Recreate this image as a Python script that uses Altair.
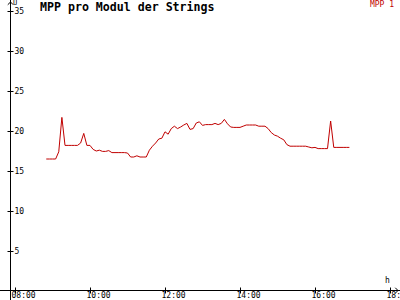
import altair as alt
import pandas as pd

times = [
    "08:50", "08:55",
    "09:00", "09:05", "09:10", "09:15", "09:20", "09:25", "09:30", "09:35", "09:40", "09:45", "09:50", "09:55",
    "10:00", "10:05", "10:10", "10:15", "10:20", "10:25", "10:30", "10:35", "10:40", "10:45", "10:50", "10:55",
    "11:00", "11:05", "11:10", "11:15", "11:20", "11:25", "11:30", "11:35", "11:40", "11:45", "11:50", "11:55",
    "12:00", "12:05", "12:10", "12:15", "12:20", "12:25", "12:30", "12:35", "12:40", "12:45", "12:50", "12:55",
    "13:00", "13:05", "13:10", "13:15", "13:20", "13:25", "13:30", "13:35", "13:40", "13:45", "13:50", "13:55",
    "14:00", "14:05", "14:10", "14:15", "14:20", "14:25", "14:30", "14:35", "14:40", "14:45", "14:50", "14:55",
    "15:00", "15:05", "15:10", "15:15", "15:20", "15:25", "15:30", "15:35", "15:40", "15:45", "15:50", "15:55",
    "16:00", "16:05", "16:10", "16:15", "16:20", "16:25", "16:30", "16:35", "16:40", "16:45", "16:50", "16:55",
]
values = [
    16.5, 16.5, 16.5, 16.5, 17.4, 21.7, 18.2, 18.2, 18.2, 18.2,
    18.2, 18.5, 19.7, 18.2, 18.2, 17.7, 17.5, 17.6, 17.45, 17.45,
    17.55, 17.3, 17.3, 17.3, 17.3, 17.3, 17.25, 16.75, 16.75, 16.9,
    16.75, 16.75, 16.75, 17.6, 18.1, 18.5, 19.0, 19.1, 19.9, 19.6,
    20.3, 20.6, 20.3, 20.5, 20.75, 20.95, 20.2, 20.3, 21.0, 21.15,
    20.7, 20.8, 20.8, 20.8, 20.95, 20.8, 20.95, 21.45, 20.9, 20.5,
    20.45, 20.45, 20.45, 20.6, 20.75, 20.75, 20.75, 20.75, 20.6, 20.6,
    20.6, 20.3, 19.8, 19.5, 19.35, 19.1, 18.9, 18.3, 18.1, 18.1,
    18.1, 18.1, 18.1, 18.1, 18.0, 17.9, 17.95, 17.8, 17.8, 17.8,
    17.8, 21.25, 17.95, 17.95, 17.95, 17.95, 17.95, 17.95,
]
x_ticks = [480, 600, 720, 840, 960, 1080]  # minutes: 08:00 .. 18:00
y_ticks = [5, 10, 15, 20, 25, 30, 35]
series_name = "MPP 1"
title_text = "MPP pro Modul der Strings"

df = pd.DataFrame({"t": times, "v": values})
df["m"] = df["t"].apply(lambda s: int(s[:2]) * 60 + int(s[3:]))

FONT = "DejaVu Sans Mono"
RED = "#c00000"

line = alt.Chart(df).mark_line(color=RED, strokeWidth=1).encode(
    x=alt.X("m:Q", scale=alt.Scale(domain=[456, 1096], nice=False, zero=False),
            axis=alt.Axis(values=x_ticks, orient="bottom", offset=-13, tickSize=6,
                          domain=False, grid=False, title=None, labelPadding=-1.5,
                          labelAlign="left", labelOffset=-4, labelBaseline="top",
                          labelFont=FONT, labelFontSize=8, labelColor="black",
                          tickColor="black", labelFlush=False, labelOverlap=False,
                          labelBound=False,
                          labelExpr="(floor(datum.value/60) < 10 ? '0' : '') + floor(datum.value/60) + ':00'")),
    y=alt.Y("v:Q", scale=alt.Scale(domain=[-1.125, 36.375], nice=False, zero=False),
            axis=alt.Axis(values=y_ticks, orient="left", offset=-13, tickSize=6,
                          domain=False, grid=False, title=None, labelPadding=-7,
                          labelAlign="left", labelBaseline="middle",
                          labelFont=FONT, labelFontSize=8, labelColor="black",
                          tickColor="black", labelFlush=False, labelOverlap=False,
                          labelBound=False)),
)

yline = alt.Chart().mark_rule(color="black", strokeWidth=1).encode(
    x=alt.value(10.5), y=alt.value(0), y2=alt.value(300))
xline = alt.Chart().mark_rule(color="black", strokeWidth=1).encode(
    x=alt.value(0), x2=alt.value(400), y=alt.value(290.5))

up_arrow = alt.Chart().mark_point(shape="M-1,1L0,0L1,1", filled=False, color="black",
                                  strokeWidth=1, size=30, opacity=1).encode(
    x=alt.value(10.5), y=alt.value(2))
right_arrow = alt.Chart().mark_point(shape="M-1,-1L0,0L-1,1", filled=False, color="black",
                                     strokeWidth=1, size=30, opacity=1).encode(
    x=alt.value(398), y=alt.value(290.5))

u_lbl = alt.Chart().mark_text(text="U", font=FONT, fontSize=7, align="left",
                              baseline="top", color="black").encode(
    x=alt.value(13), y=alt.value(-1))
h_lbl = alt.Chart().mark_text(text="h", font=FONT, fontSize=8, align="left",
                              baseline="bottom", color="black").encode(
    x=alt.value(385), y=alt.value(285))
title = alt.Chart().mark_text(text=title_text, font=FONT, fontSize=11.6, fontWeight="bold",
                              align="left", baseline="top", color="black").encode(
    x=alt.value(40), y=alt.value(2))
legend = alt.Chart().mark_text(text=series_name, font=FONT, fontSize=8,
                               align="right", baseline="top", color=RED).encode(
    x=alt.value(394), y=alt.value(1))

chart = alt.layer(line, yline, xline, up_arrow, right_arrow, u_lbl, h_lbl, title, legend).properties(
    width=400, height=300, padding=0, autosize=alt.AutoSizeParams(type="none"),
    background="white"
).configure_view(stroke=None)

chart.save("out.html", embed_options={"renderer": "svg", "actions": False})
